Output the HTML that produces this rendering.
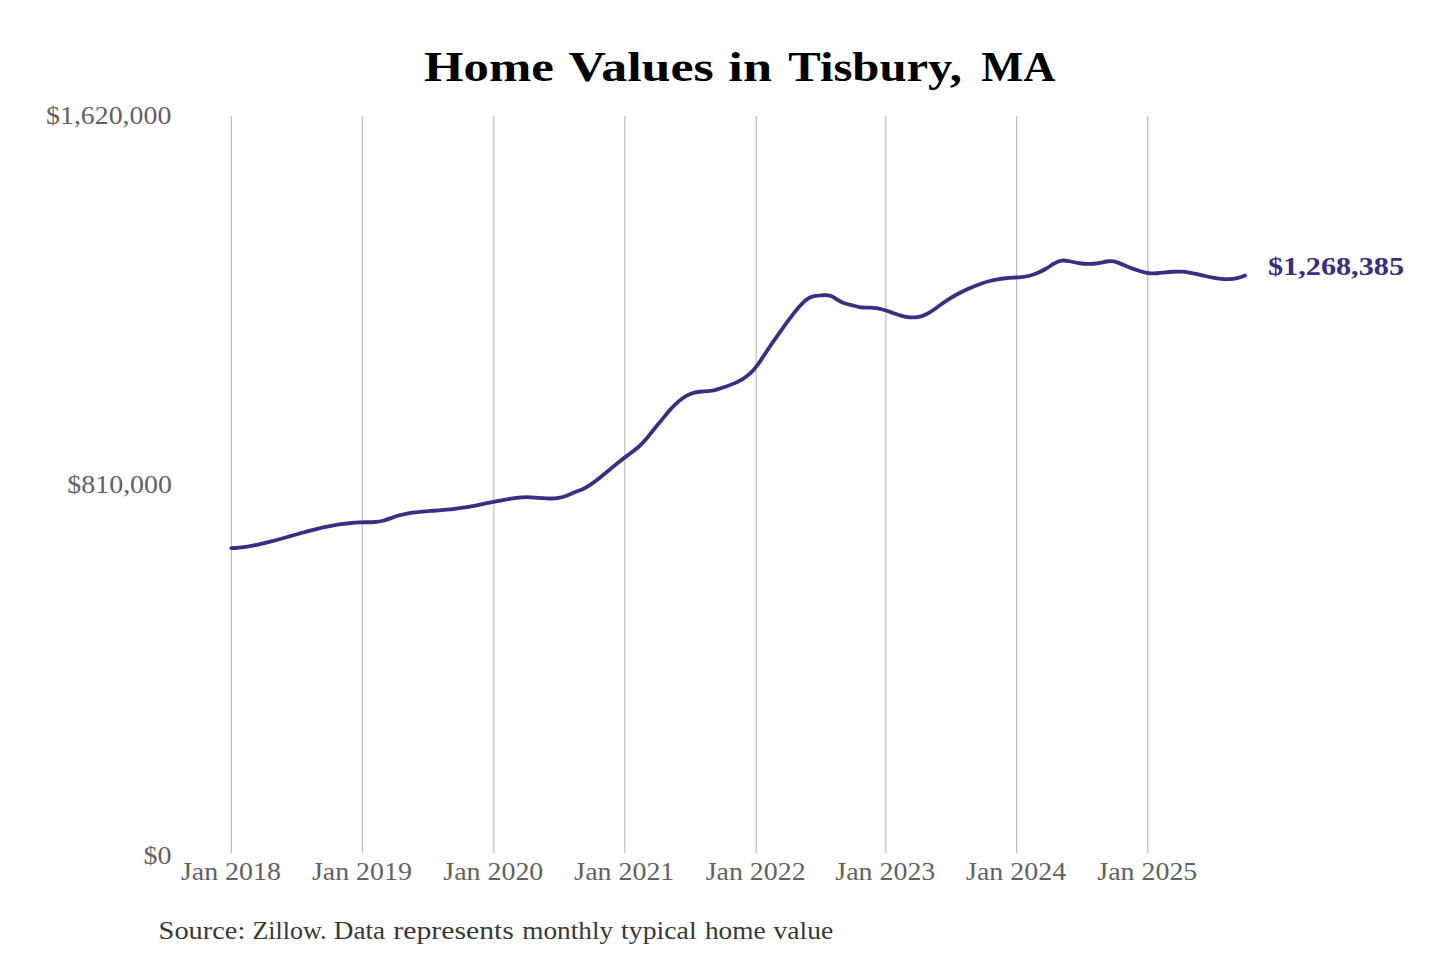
<!DOCTYPE html>
<html><head><meta charset="utf-8"><style>
html,body{margin:0;padding:0;background:#fff;width:1440px;height:960px;overflow:hidden;}
svg{display:block;}
text{font-family:"Liberation Serif",serif;}
</style></head><body>
<svg width="1440" height="960" viewBox="0 0 1440 960">
<rect width="1440" height="960" fill="#fff"/>
<g font-weight="bold" font-size="42" fill="#000" transform="translate(0,81)"><text y="0" x="424.00" textLength="129.86" lengthAdjust="spacingAndGlyphs">Home</text><text y="0" x="568.50" textLength="145.12" lengthAdjust="spacingAndGlyphs">Values</text><text y="0" x="728.35" textLength="43.69" lengthAdjust="spacingAndGlyphs">in</text><text y="0" x="788.30" textLength="173.64" lengthAdjust="spacingAndGlyphs">Tisbury,</text><text y="0" x="981.25" textLength="74.23" lengthAdjust="spacingAndGlyphs">MA</text></g>
<g stroke="#bdbdbd" stroke-width="1.2"><line x1="231.4" y1="116" x2="231.4" y2="853" /><line x1="362.4" y1="116" x2="362.4" y2="853" /><line x1="493.8" y1="116" x2="493.8" y2="853" /><line x1="624.8" y1="116" x2="624.8" y2="853" /><line x1="756.2" y1="116" x2="756.2" y2="853" /><line x1="885.8" y1="116" x2="885.8" y2="853" /><line x1="1016.6" y1="116" x2="1016.6" y2="853" /><line x1="1147.8" y1="116" x2="1147.8" y2="853" /></g>
<g fill="#626262" font-size="26" text-anchor="end">
<text x="171.3" y="124.3" textLength="125.2" lengthAdjust="spacingAndGlyphs">$1,620,000</text>
<text x="172" y="492.5" textLength="104.7" lengthAdjust="spacingAndGlyphs">$810,000</text>
<text x="171.5" y="863.7" textLength="28" lengthAdjust="spacingAndGlyphs">$0</text>
</g>
<g fill="#626262" font-size="26" text-anchor="middle"><text x="230.9" y="879.5" textLength="100" lengthAdjust="spacingAndGlyphs">Jan 2018</text><text x="361.9" y="879.5" textLength="100" lengthAdjust="spacingAndGlyphs">Jan 2019</text><text x="493.3" y="879.5" textLength="100" lengthAdjust="spacingAndGlyphs">Jan 2020</text><text x="624.3" y="879.5" textLength="100" lengthAdjust="spacingAndGlyphs">Jan 2021</text><text x="755.7" y="879.5" textLength="100" lengthAdjust="spacingAndGlyphs">Jan 2022</text><text x="885.3" y="879.5" textLength="100" lengthAdjust="spacingAndGlyphs">Jan 2023</text><text x="1016.1" y="879.5" textLength="100" lengthAdjust="spacingAndGlyphs">Jan 2024</text><text x="1147.3" y="879.5" textLength="100" lengthAdjust="spacingAndGlyphs">Jan 2025</text></g>
<path d="M231.4,548.18 C234.06,548.06 236.72,547.85 239.38,547.57 C242.04,547.28 244.70,546.93 247.36,546.51 C250.02,546.09 252.68,545.61 255.34,545.08 C258.00,544.55 260.66,543.96 263.32,543.34 C265.98,542.72 268.65,542.06 271.31,541.37 C273.97,540.69 276.63,539.97 279.29,539.24 C281.95,538.51 284.61,537.76 287.27,537.00 C289.93,536.25 292.59,535.49 295.25,534.74 C297.91,533.99 300.57,533.24 303.23,532.51 C305.89,531.78 308.55,531.07 311.21,530.39 C313.87,529.71 316.53,529.06 319.19,528.45 C321.85,527.83 324.51,527.25 327.17,526.71 C329.83,526.17 332.49,525.67 335.15,525.21 C337.81,524.75 340.48,524.34 343.14,523.97 C345.80,523.60 348.46,523.28 351.12,523.01 C353.78,522.75 356.44,522.54 359.10,522.41 C361.76,522.28 364.42,522.25 367.08,522.23 C369.74,522.20 372.40,522.17 375.06,521.98 C377.72,521.78 380.38,521.43 383.04,520.76 C385.70,520.09 388.36,519.10 391.02,518.11 C393.68,517.12 396.34,516.17 399.00,515.42 C401.66,514.67 404.32,514.07 406.98,513.57 C409.64,513.07 412.30,512.68 414.97,512.36 C417.63,512.04 420.29,511.78 422.95,511.56 C425.61,511.34 428.27,511.14 430.93,510.94 C433.59,510.73 436.25,510.53 438.91,510.31 C441.57,510.10 444.23,509.87 446.89,509.62 C449.55,509.37 452.21,509.09 454.87,508.78 C457.53,508.47 460.19,508.13 462.85,507.74 C465.51,507.34 468.17,506.91 470.83,506.41 C473.49,505.92 476.15,505.37 478.81,504.80 C481.47,504.24 484.13,503.66 486.80,503.10 C489.46,502.54 492.12,502.00 494.78,501.51 C497.44,501.02 500.10,500.58 502.76,500.12 C505.42,499.66 508.08,499.18 510.74,498.74 C513.40,498.30 516.06,497.91 518.72,497.63 C521.38,497.35 524.04,497.19 526.70,497.20 C529.36,497.21 532.02,497.37 534.68,497.57 C537.34,497.77 540.00,498.01 542.66,498.20 C545.32,498.39 547.98,498.53 550.64,498.51 C553.30,498.49 555.96,498.31 558.63,497.88 C561.29,497.44 563.95,496.72 566.61,495.72 C569.27,494.71 571.93,493.48 574.59,492.36 C577.25,491.24 579.91,490.39 582.57,489.27 C585.23,488.14 587.89,486.51 590.55,484.66 C593.21,482.80 595.87,480.78 598.53,478.69 C601.19,476.60 603.85,474.42 606.51,472.21 C609.17,470.01 611.83,467.78 614.49,465.60 C617.15,463.41 619.81,461.26 622.47,459.21 C625.13,457.16 627.79,455.26 630.46,453.31 C633.12,451.36 635.78,449.34 638.44,447.01 C641.10,444.67 643.76,441.98 646.42,438.78 C649.08,435.57 651.74,431.99 654.40,428.73 C657.06,425.47 659.72,422.41 662.38,419.16 C665.04,415.90 667.70,412.53 670.36,409.52 C673.02,406.52 675.68,403.86 678.34,401.58 C681.00,399.31 683.66,397.40 686.32,395.89 C688.98,394.39 691.64,393.28 694.30,392.58 C696.96,391.89 699.62,391.65 702.29,391.49 C704.95,391.34 707.61,391.27 710.27,390.93 C712.93,390.59 715.59,389.88 718.25,389.07 C720.91,388.26 723.57,387.40 726.23,386.48 C728.89,385.55 731.55,384.54 734.21,383.37 C736.87,382.20 739.53,380.89 742.19,379.31 C744.85,377.73 747.51,375.86 750.17,373.42 C752.83,370.98 755.49,367.87 758.15,364.15 C760.81,360.43 763.47,356.22 766.13,352.18 C768.79,348.15 771.45,344.28 774.11,340.46 C776.78,336.65 779.44,332.84 782.10,329.08 C784.76,325.32 787.42,321.62 790.08,318.09 C792.74,314.55 795.40,311.18 798.06,308.07 C800.72,304.96 803.38,302.04 806.04,299.96 C808.70,297.87 811.36,296.77 814.02,296.17 C816.68,295.56 819.34,295.42 822.00,295.23 C824.66,295.04 827.32,294.86 829.98,295.61 C832.64,296.36 835.30,298.34 837.96,300.03 C840.62,301.71 843.28,302.90 845.94,303.72 C848.61,304.54 851.27,305.02 853.93,305.74 C856.59,306.46 859.25,307.26 861.91,307.50 C864.57,307.74 867.23,307.60 869.89,307.63 C872.55,307.65 875.21,307.92 877.87,308.44 C880.53,308.97 883.19,309.72 885.85,310.56 C888.51,311.41 891.17,312.36 893.83,313.28 C896.49,314.20 899.15,315.08 901.81,315.80 C904.47,316.52 907.13,317.07 909.79,317.32 C912.45,317.58 915.11,317.52 917.77,317.05 C920.44,316.58 923.10,315.72 925.76,314.49 C928.42,313.26 931.08,311.63 933.74,309.77 C936.40,307.91 939.06,305.86 941.72,303.96 C944.38,302.06 947.04,300.29 949.70,298.63 C952.36,296.97 955.02,295.42 957.68,293.97 C960.34,292.53 963.00,291.19 965.66,289.93 C968.32,288.68 970.98,287.52 973.64,286.44 C976.30,285.36 978.96,284.36 981.62,283.45 C984.28,282.54 986.94,281.73 989.60,281.03 C992.27,280.33 994.93,279.75 997.59,279.30 C1000.25,278.84 1002.91,278.51 1005.57,278.25 C1008.23,277.99 1010.89,277.80 1013.55,277.63 C1016.21,277.45 1018.87,277.31 1021.53,277.06 C1024.19,276.81 1026.85,276.42 1029.51,275.75 C1032.17,275.08 1034.83,274.16 1037.49,273.03 C1040.15,271.90 1042.81,270.54 1045.47,269.00 C1048.13,267.45 1050.79,265.59 1053.45,263.90 C1056.11,262.22 1058.77,260.91 1061.43,260.59 C1064.10,260.27 1066.76,260.71 1069.42,261.24 C1072.08,261.76 1074.74,262.39 1077.40,262.89 C1080.06,263.38 1082.72,263.70 1085.38,263.85 C1088.04,263.99 1090.70,263.96 1093.36,263.75 C1096.02,263.54 1098.68,263.14 1101.34,262.60 C1104.00,262.06 1106.66,261.43 1109.32,261.24 C1111.98,261.04 1114.64,261.42 1117.30,262.35 C1119.96,263.27 1122.62,264.62 1125.28,265.81 C1127.94,267.01 1130.60,267.99 1133.26,268.88 C1135.92,269.78 1138.59,270.64 1141.25,271.46 C1143.91,272.27 1146.57,272.96 1149.23,273.24 C1151.89,273.52 1154.55,273.46 1157.21,273.26 C1159.87,273.06 1162.53,272.74 1165.19,272.46 C1167.85,272.17 1170.51,271.91 1173.17,271.75 C1175.83,271.60 1178.49,271.56 1181.15,271.71 C1183.81,271.87 1186.47,272.19 1189.13,272.63 C1191.79,273.06 1194.45,273.60 1197.11,274.18 C1199.77,274.76 1202.43,275.38 1205.09,275.99 C1207.75,276.59 1210.42,277.17 1213.08,277.67 C1215.74,278.17 1218.40,278.58 1221.06,278.85 C1223.72,279.11 1226.38,279.23 1229.04,279.13 C1231.70,279.03 1234.36,278.72 1237.02,278.14 C1239.68,277.55 1242.34,276.69 1245.00,275.49" fill="none" stroke="#372e85" stroke-width="3.8" stroke-linecap="round" stroke-linejoin="round"/>
<text x="1268" y="275" font-weight="bold" font-size="25" fill="#372e85" textLength="136" lengthAdjust="spacingAndGlyphs">$1,268,385</text>
<g font-size="26" fill="#383838" transform="translate(0,939)"><text y="0" x="158.61" textLength="86.75" lengthAdjust="spacingAndGlyphs">Source:</text><text y="0" x="252.40" textLength="74.14" lengthAdjust="spacingAndGlyphs">Zillow.</text><text y="0" x="333.86" textLength="51.24" lengthAdjust="spacingAndGlyphs">Data</text><text y="0" x="393.30" textLength="120.67" lengthAdjust="spacingAndGlyphs">represents</text><text y="0" x="522.20" textLength="90.96" lengthAdjust="spacingAndGlyphs">monthly</text><text y="0" x="621.10" textLength="75.52" lengthAdjust="spacingAndGlyphs">typical</text><text y="0" x="704.90" textLength="60.70" lengthAdjust="spacingAndGlyphs">home</text><text y="0" x="773.60" textLength="59.53" lengthAdjust="spacingAndGlyphs">value</text></g>
</svg>
</body></html>
